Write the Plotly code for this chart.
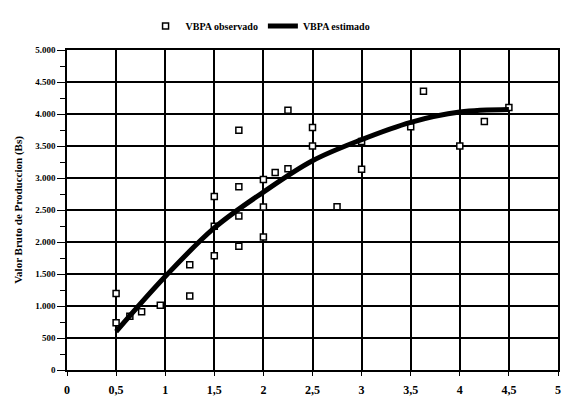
import plotly.graph_objects as go

# Observed gross production value (VBPA) by x value
obs_x = [0.5, 0.5, 0.64, 0.76, 0.95, 1.25, 1.25, 1.5, 1.5, 1.5,
         1.75, 1.75, 1.75, 1.75, 2.0, 2.0, 2.0, 2.12, 2.25, 2.25,
         2.5, 2.5, 2.75, 3.0, 3.0, 3.5, 3.63, 4.0, 4.25, 4.5]
obs_y = [1195, 740, 840, 910, 1010, 1645, 1158, 2712, 2245, 1785,
         2864, 2408, 1935, 3745, 2975, 2545, 2077, 3085, 3145, 4060,
         3790, 3500, 2550, 3570, 3135, 3800, 4355, 3500, 3883, 4100]

# Estimated VBPA curve
est_x = [0.5, 1.0, 1.5, 2.0, 2.5, 3.0, 3.5, 4.0, 4.5]
est_y = [600, 1460, 2220, 2780, 3270, 3600, 3870, 4030, 4070]

x_ticks = [0, 0.5, 1, 1.5, 2, 2.5, 3, 3.5, 4, 4.5, 5]
x_labels = ["0", "0,5", "1", "1,5", "2", "2,5", "3", "3,5", "4", "4,5", "5"]
y_ticks = [0, 500, 1000, 1500, 2000, 2500, 3000, 3500, 4000, 4500, 5000]
y_labels = ["0", "500", "1.000", "1.500", "2.000", "2.500", "3.000",
            "3.500", "4.000", "4.500", "5.000"]

FONT = "Liberation Serif"

fig = go.Figure()
fig.add_trace(go.Scatter(
    x=obs_x, y=obs_y, mode="markers", name="<b>VBPA observado</b>",
    marker=dict(symbol="square", size=6, color="white",
                line=dict(color="black", width=1.5)),
    cliponaxis=False,
))
fig.add_trace(go.Scatter(
    x=est_x, y=est_y, mode="lines", name="<b>VBPA estimado</b>",
    line=dict(color="black", width=5, shape="spline", smoothing=1.0),
))

fig.update_layout(
    width=573, height=400,
    margin=dict(l=67, r=15, t=42, b=30),
    paper_bgcolor="white", plot_bgcolor="white",
    font=dict(family=FONT, color="black"),
    legend=dict(orientation="h", x=0.16, xanchor="left", y=1.075,
                yanchor="middle", font=dict(size=10, family=FONT),
                itemwidth=30, tracegroupgap=0),
    showlegend=True,
)
fig.update_xaxes(
    range=[0, 5], tickvals=x_ticks, ticktext=[f"<b>{t}</b>" for t in x_labels],
    tickfont=dict(size=12, family=FONT),
    showgrid=True, gridcolor="black", gridwidth=1.5,
    showline=True, linecolor="black", linewidth=1.5, mirror=True,
    ticks="outside", ticklen=4, tickcolor="black", zeroline=False,
    ticklabelstandoff=4, automargin=False,
)
fig.update_yaxes(
    range=[0, 5000], tickvals=y_ticks, ticktext=[f"<b>{t}</b>" for t in y_labels],
    tickfont=dict(size=9, family=FONT),
    title=dict(text="<b>Valor Bruto de Produccion (Bs)</b>",
               font=dict(size=11, family=FONT), standoff=10),
    showgrid=True, gridcolor="black", gridwidth=1.5,
    showline=True, linecolor="black", linewidth=1.5, mirror=True,
    ticks="outside", ticklen=8, tickcolor="black", zeroline=False,
    minor=dict(dtick=250, ticks="outside", ticklen=5, tickcolor="black",
               showgrid=False),
    automargin=False,
)

fig.write_html("out.html")
